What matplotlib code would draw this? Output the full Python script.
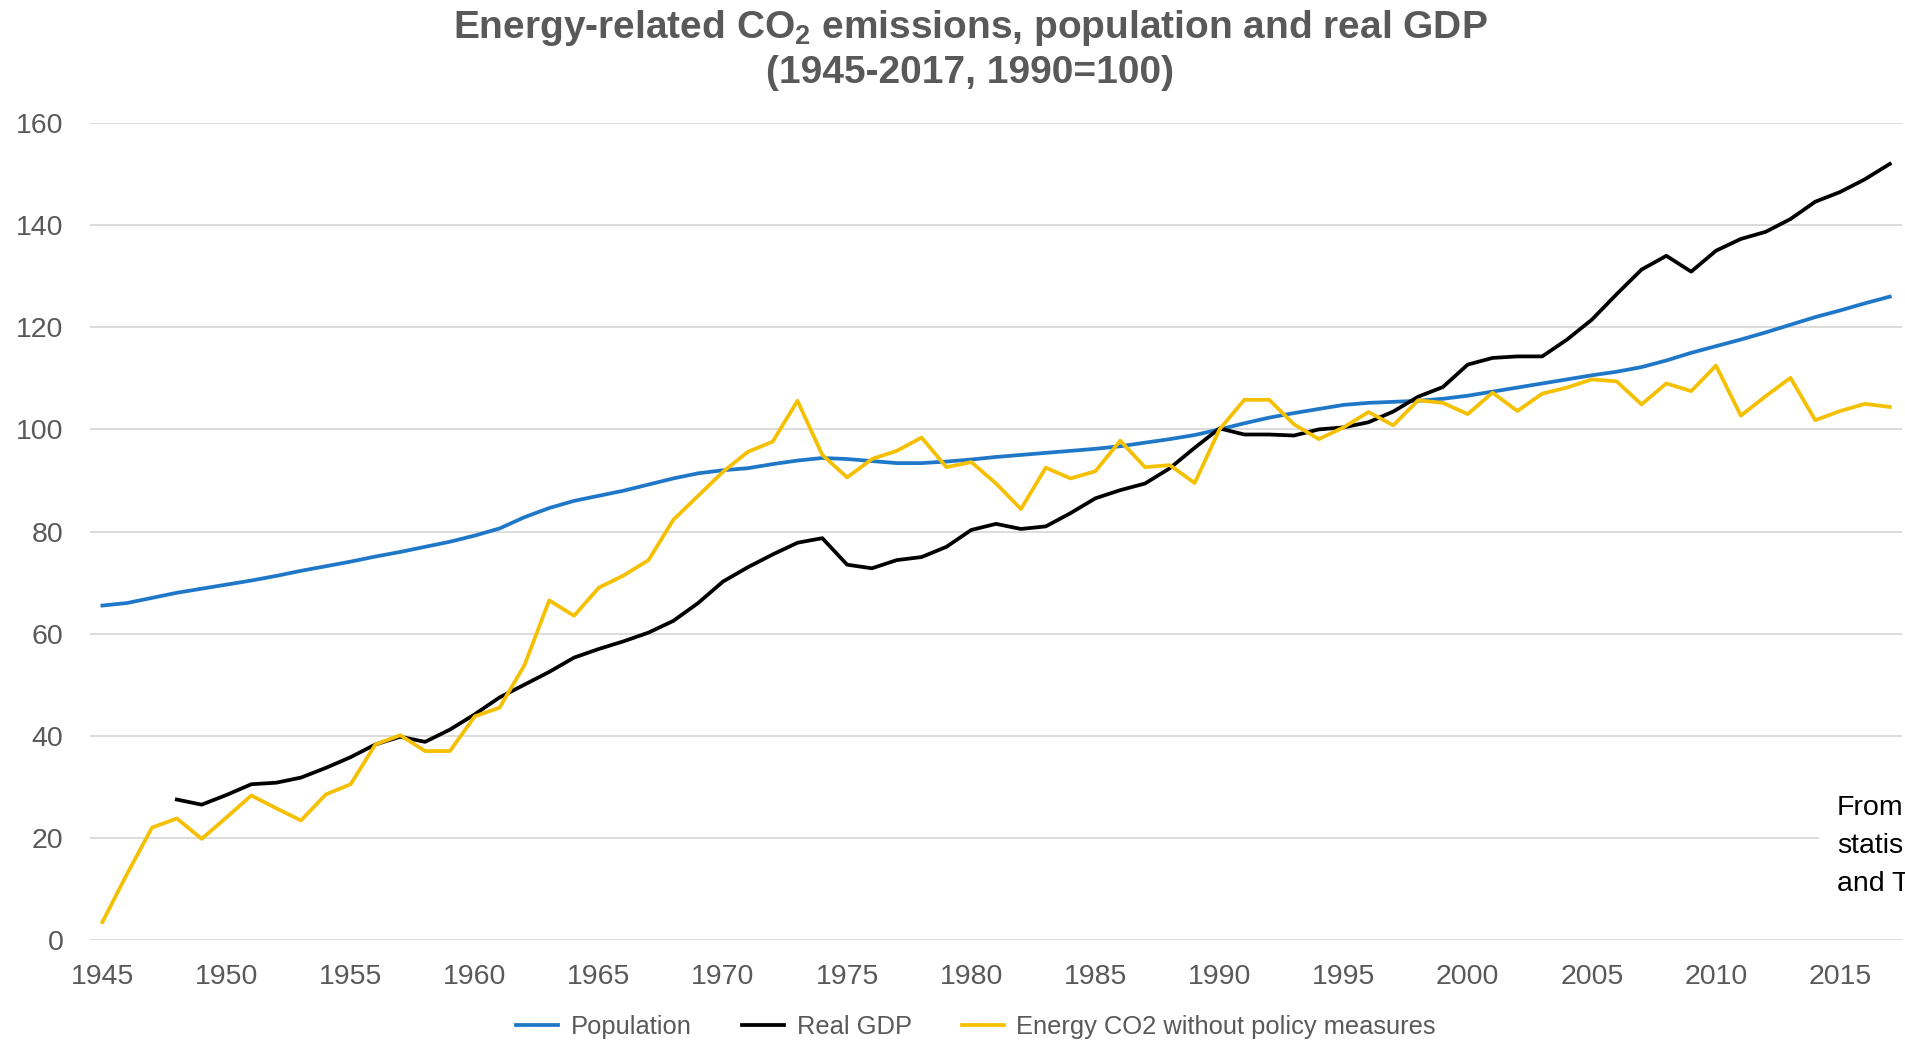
import matplotlib
matplotlib.use("Agg")
import matplotlib.pyplot as plt
from matplotlib.ticker import MultipleLocator

years = list(range(1945, 2018))

population = [65.5, 66.0, 67.0, 68.0, 68.8, 69.6, 70.4, 71.3, 72.3, 73.2,
              74.1, 75.1, 76.0, 77.0, 78.0, 79.2, 80.6, 82.8, 84.6, 86.0,
              87.0, 88.0, 89.2, 90.4, 91.4, 92.0, 92.4, 93.2, 93.9, 94.4,
              94.2, 93.8, 93.4, 93.4, 93.7, 94.1, 94.6, 95.0, 95.4, 95.8,
              96.2, 96.7, 97.4, 98.1, 98.9, 100.0, 101.2, 102.3, 103.2, 104.0,
              104.8, 105.2, 105.4, 105.6, 106.0, 106.6, 107.4, 108.2, 109.0, 109.8,
              110.6, 111.3, 112.2, 113.5, 115.0, 116.3, 117.6, 119.0, 120.5, 122.0,
              123.3, 124.7, 126.0]

gdp_years = list(range(1948, 2018))
real_gdp = [27.5, 26.5, 28.4, 30.5, 30.8, 31.8, 33.7,
            35.8, 38.3, 39.8, 38.8, 41.2, 44.2, 47.5, 50.0, 52.5, 55.3,
            57.0, 58.5, 60.2, 62.5, 66.0, 70.2, 73.0, 75.5, 77.8, 78.7,
            73.5, 72.8, 74.4, 75.0, 77.0, 80.3, 81.5, 80.5, 81.0, 83.6,
            86.5, 88.1, 89.4, 92.4, 96.4, 100.2, 99.0, 99.0, 98.8, 100.0,
            100.4, 101.4, 103.5, 106.4, 108.3, 112.7, 114.0, 114.3, 114.3, 117.6,
            121.5, 126.5, 131.3, 134.0, 130.9, 135.0, 137.3, 138.7, 141.2, 144.6,
            146.5, 149.0, 152.0]

energy_co2 = [3.5, 13.0, 22.0, 23.8, 19.8, 24.0, 28.3, 25.8, 23.4, 28.5,
              30.5, 38.3, 40.1, 37.0, 37.0, 43.8, 45.5, 53.8, 66.5, 63.5,
              69.0, 71.4, 74.4, 82.3, 87.0, 91.7, 95.6, 97.6, 105.6, 95.0,
              90.6, 94.2, 95.8, 98.4, 92.6, 93.6, 89.4, 84.4, 92.5, 90.4,
              91.8, 97.8, 92.6, 93.0, 89.5, 100.0, 105.8, 105.8, 101.0, 98.1,
              100.4, 103.4, 100.8, 105.7, 105.2, 103.0, 107.2, 103.6, 107.0, 108.2,
              109.8, 109.4, 104.9, 109.0, 107.5, 112.5, 102.7, 106.5, 110.1, 101.8,
              103.6, 105.0, 104.4]

tick_years = list(range(1945, 2018, 5))

GREY = "#595959"
plt.rcParams.update({"font.family": ["Liberation Sans", "DejaVu Sans"]})

fig = plt.figure(figsize=(19.06, 10.43), dpi=100)
ax = fig.add_axes([0.0472, 0.0988, 0.9508, 0.7832])

ax.plot(years, population, color="#1f77c8", lw=2.7, label="Population", zorder=3)
ax.plot(gdp_years, real_gdp, color="black", lw=2.7, label="Real GDP", zorder=3)
ax.plot(years, energy_co2, color="#f5c000", lw=2.7,
        label="Energy CO2 without policy measures", zorder=3)

ax.set_xlim(1944.5, 2017.5)
ax.set_ylim(0, 160)
ax.yaxis.set_major_locator(MultipleLocator(20))
ax.set_xticks(tick_years)
ax.grid(axis="y", color="#d9d9d9", lw=1.3, zorder=0)
for s in ax.spines.values():
    s.set_visible(False)
ax.tick_params(length=0, labelsize=20.5, labelcolor=GREY)
ax.tick_params(axis="y", pad=19)
ax.tick_params(axis="x", pad=17)

fig.text(0.509, 1 - 38 / 1043, "Energy-related CO$_\\mathregular{2}$ emissions, population and real GDP",
         ha="center", va="baseline", fontsize=28, fontweight="bold", color=GREY)
fig.text(0.509, 1 - 83 / 1043, "(1945-2017, 1990=100)",
         ha="center", va="baseline", fontsize=28, fontweight="bold", color=GREY)

fig.legend(loc="center", bbox_to_anchor=(976 / 1906, 1 - 1027 / 1043), ncol=3,
           frameon=False, fontsize=18.4, labelcolor=GREY, handlelength=1.65,
           handletextpad=0.5, columnspacing=1.95)

fig.text(1837 / 1906, 1 - 795 / 1043, "From\nstatis\nand T", ha="left", va="top",
         fontsize=20.5, color="black", linespacing=1.6,
         bbox=dict(facecolor="white", edgecolor="none", pad=13))

fig.savefig("out.png", dpi=100, facecolor="white")
